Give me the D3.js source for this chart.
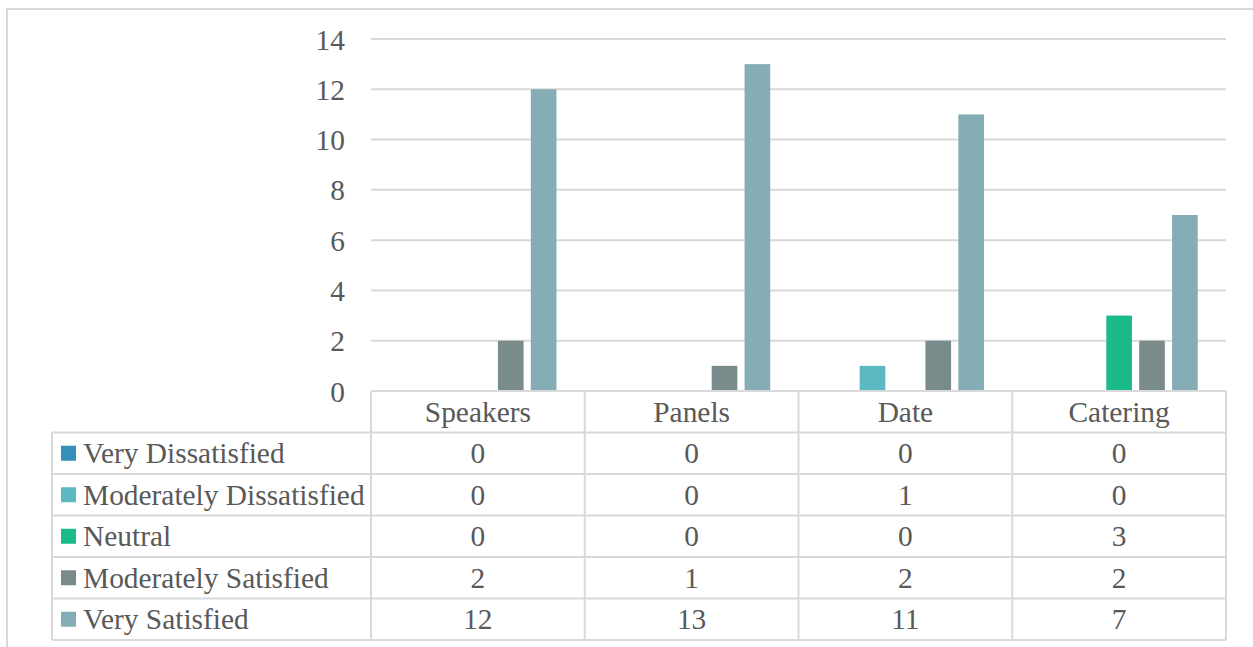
<!DOCTYPE html>
<html>
<head>
<meta charset="utf-8">
<script src="https://cdn.jsdelivr.net/npm/d3@7"></script>
</head>
<body style="margin:0;padding:0;background:#ffffff;">
<svg id="chart" width="1253" height="647" style="display:block;"></svg>
<script>
// Survey categories and responses per satisfaction level
const categories = ["Speakers", "Panels", "Date", "Catering"];
const seriesNames = ["Very Dissatisfied", "Moderately Dissatisfied", "Neutral", "Moderately Satisfied", "Very Satisfied"];
const veryDissatisfied = [0, 0, 0, 0];
const moderatelyDissatisfied = [0, 0, 1, 0];
const neutral = [0, 0, 0, 3];
const moderatelySatisfied = [2, 1, 2, 2];
const verySatisfied = [12, 13, 11, 7];
const seriesColors = ["#3490BA", "#5CB8C1", "#1BBA8B", "#7A8B8C", "#84ADB6"];
const yTicks = [0, 2, 4, 6, 8, 10, 12, 14];

const seriesValues = [veryDissatisfied, moderatelyDissatisfied, neutral, moderatelySatisfied, verySatisfied];

const svg = d3.select("#chart");
const gridColor = "#d9d9d9";
const textColor = "#595959";
const fontSize = "29.4px";

function styleText(sel) {
  return sel.style("font-family", '"Times New Roman", "Liberation Serif", serif')
    .style("font-size", fontSize)
    .style("fill", textColor);
}

// Outer frame
svg.append("rect")
  .attr("x", 7).attr("y", 9)
  .attr("width", 1260).attr("height", 660)
  .attr("fill", "none").attr("stroke", gridColor).attr("stroke-width", 2);

const plotLeft = 371, plotRight = 1226, plotTop = 39, plotBottom = 391;

const x = d3.scaleBand().domain(categories).range([plotLeft, plotRight]).padding(0);
const xInner = d3.scaleBand().domain(seriesNames).range([0, x.bandwidth()])
  .paddingInner(0.22).paddingOuter(0.86);
const y = d3.scaleLinear().domain([0, 14]).range([plotBottom, plotTop]);

// Horizontal gridlines
svg.append("g").selectAll("line")
  .data(yTicks.filter(d => d > 0))
  .join("line")
  .attr("x1", plotLeft).attr("x2", plotRight)
  .attr("y1", d => y(d)).attr("y2", d => y(d))
  .attr("stroke", gridColor).attr("stroke-width", 2);

// Y axis labels
const yAxis = d3.axisLeft(y).tickValues(yTicks).tickSize(0).tickPadding(0);
const yg = svg.append("g").attr("transform", "translate(345,0)").call(yAxis);
yg.attr("font-family", null).attr("font-size", null);
yg.select(".domain").remove();
yg.selectAll("text")
  .attr("x", 0)
  .attr("dy", "0.34em")
  .call(styleText);

// Bars
const groups = svg.append("g").selectAll("g")
  .data(categories)
  .join("g")
  .attr("transform", d => `translate(${x(d)},0)`);

groups.selectAll("rect")
  .data((c, ci) => seriesNames.map((s, si) => ({ s, si, v: seriesValues[si][ci] })))
  .join("rect")
  .attr("x", d => xInner(d.s))
  .attr("width", xInner.bandwidth())
  .attr("y", d => y(d.v))
  .attr("height", d => y(0) - y(d.v))
  .attr("fill", d => seriesColors[d.si]);

// Data table beneath the plot
const tableLeft = 52;
const rowH = 41.5;
const headerTop = plotBottom;
const rowsTop = headerTop + rowH;
const tableBottom = rowsTop + rowH * seriesNames.length;
const tbl = svg.append("g");

function hline(x1, x2, yy) {
  tbl.append("line").attr("x1", x1).attr("x2", x2).attr("y1", yy).attr("y2", yy)
    .attr("stroke", gridColor).attr("stroke-width", 2);
}
function vline(xx, y1, y2) {
  tbl.append("line").attr("x1", xx).attr("x2", xx).attr("y1", y1).attr("y2", y2)
    .attr("stroke", gridColor).attr("stroke-width", 2);
}

hline(plotLeft, plotRight, headerTop);
d3.range(seriesNames.length + 1).forEach(i => hline(tableLeft, plotRight, rowsTop + i * rowH));
vline(tableLeft, rowsTop, tableBottom);
categories.forEach(c => vline(x(c), headerTop, tableBottom));
vline(plotRight, headerTop, tableBottom);

// Category labels
tbl.selectAll("text.cat")
  .data(categories)
  .join("text")
  .attr("class", "cat")
  .attr("x", d => x(d) + x.bandwidth() / 2)
  .attr("y", headerTop + rowH / 2)
  .attr("dy", "0.34em")
  .attr("text-anchor", "middle")
  .call(styleText)
  .text(d => d);

// Legend keys and values
seriesNames.forEach((s, si) => {
  const cy = rowsTop + si * rowH + rowH / 2;
  tbl.append("rect")
    .attr("x", 61).attr("y", cy - 7.5)
    .attr("width", 15).attr("height", 15)
    .attr("fill", seriesColors[si]);
  tbl.append("text")
    .attr("x", 83).attr("y", cy)
    .attr("dy", "0.34em")
    .call(styleText)
    .text(s);
  categories.forEach((c, ci) => {
    tbl.append("text")
      .attr("x", x(c) + x.bandwidth() / 2)
      .attr("y", cy)
      .attr("dy", "0.34em")
      .attr("text-anchor", "middle")
      .call(styleText)
      .text(seriesValues[si][ci]);
  });
});
</script>
</body>
</html>
